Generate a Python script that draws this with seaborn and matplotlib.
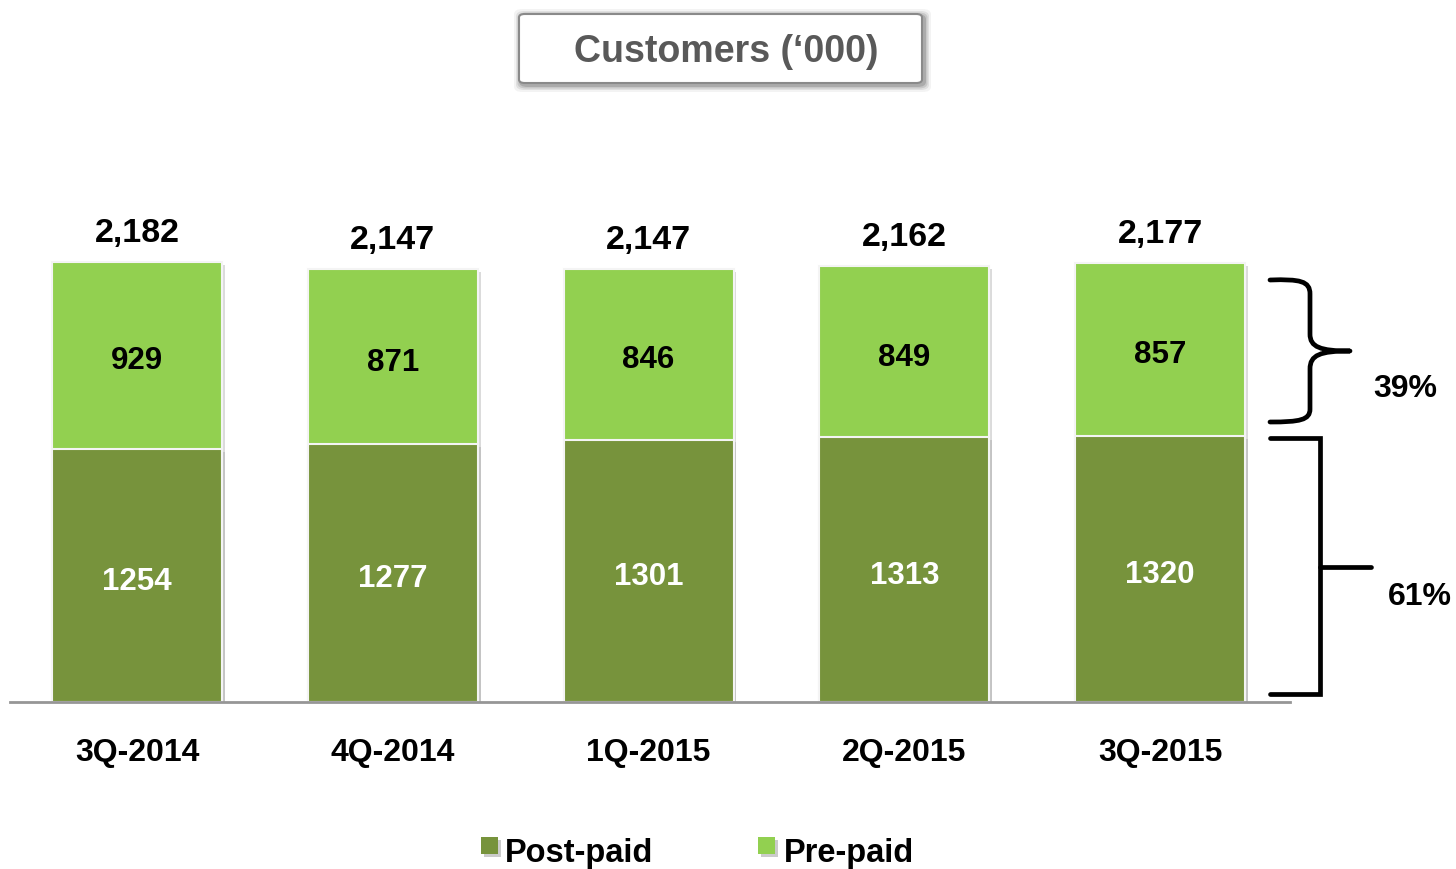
import matplotlib
matplotlib.use("Agg")
import matplotlib.pyplot as plt
import matplotlib.patheffects as pe
import matplotlib.transforms as mtransforms
from matplotlib.patches import FancyBboxPatch, Rectangle, PathPatch
from matplotlib.path import Path
import seaborn as sns
import pandas as pd

categories = ["3Q-2014", "4Q-2014", "1Q-2015", "2Q-2015", "3Q-2015"]
post_paid = [1254, 1277, 1301, 1313, 1320]
pre_paid = [929, 871, 846, 849, 857]
totals = [2182, 2147, 2147, 2162, 2177]
total_labels = ["2,182", "2,147", "2,147", "2,162", "2,177"]
share_labels = ["39%", "61%"]
title = "Customers (\u2018000)"
legend_labels = ["Post-paid", "Pre-paid"]

POST_COLOR = "#77933C"
PRE_COLOR = "#92D050"

sns.set_theme(style="white")
plt.rcParams["font.family"] = ["Liberation Sans", "DejaVu Sans"]
plt.rcParams["text.color"] = "black"

df = pd.DataFrame({"quarter": categories, "post": post_paid, "pre": pre_paid})
df["stack"] = df["post"] + df["pre"]

W, H = 1456, 870
fig = plt.figure(figsize=(W / 100, H / 100), dpi=100)
ax = fig.add_axes([10 / W, (H - 703) / H, 1280 / W, 605 / H])

shadow = [pe.SimplePatchShadow(offset=(2, -2), shadow_rgbFace="#9a9a9a", alpha=0.35), pe.Normal()]
sns.barplot(data=df, x="quarter", y="stack", color=PRE_COLOR, saturation=1, width=0.665,
            edgecolor="#f4f4f4", linewidth=1.5, ax=ax)
sns.barplot(data=df, x="quarter", y="post", color=POST_COLOR, saturation=1, width=0.665,
            edgecolor="#f4f4f4", linewidth=1.5, ax=ax)
for p in ax.patches:
    p.set_path_effects(shadow)

ax.set_xlim(-0.497, 4.508)
ax.set_ylim(0, 3000)
ax.set_xlabel("")
ax.set_ylabel("")
ax.set_yticks([])
for s in ["top", "right", "left"]:
    ax.spines[s].set_visible(False)
ax.spines["bottom"].set_color("#969696")
ax.spines["bottom"].set_linewidth(2)
ax.tick_params(axis="x", length=0, pad=25)
for lab in ax.get_xticklabels():
    lab.set_fontsize(23)
    lab.set_fontweight("bold")
    lab.set_color("black")

down = mtransforms.offset_copy(ax.transData, fig=fig, x=0, y=-5, units="dots")
down_tot = mtransforms.offset_copy(ax.transData, fig=fig, x=0, y=-3, units="dots")
for i in range(len(categories)):
    ax.text(i, post_paid[i] / 2, str(post_paid[i]), ha="center", va="center",
            fontsize=22.5, fontweight="bold", color="white", transform=down)
    ax.text(i, post_paid[i] + pre_paid[i] / 2, str(pre_paid[i]), ha="center", va="center",
            fontsize=22.5, fontweight="bold", color="black", transform=down)
    ax.text(i, totals[i] + 85, total_labels[i], ha="center", va="bottom",
            fontsize=24.5, fontweight="bold", color="black", transform=down_tot)


def fx(x):
    return x / W


def fy(y):
    return (H - y) / H


lw = 3.4
# curly brace for pre-paid
verts = [
    (fx(1270), fy(281)), (fx(1300), fy(280)), (fx(1310), fy(282)), (fx(1310), fy(295)),
    (fx(1310), fy(335)),
    (fx(1310), fy(348)), (fx(1320), fy(352)), (fx(1350), fy(352)),
    (fx(1320), fy(352)), (fx(1310), fy(356)), (fx(1310), fy(370)),
    (fx(1310), fy(410)),
    (fx(1310), fy(421)), (fx(1300), fy(423)), (fx(1270), fy(423)),
]
codes = [Path.MOVETO, Path.CURVE4, Path.CURVE4, Path.CURVE4,
         Path.LINETO,
         Path.CURVE4, Path.CURVE4, Path.CURVE4,
         Path.CURVE4, Path.CURVE4, Path.CURVE4,
         Path.LINETO,
         Path.CURVE4, Path.CURVE4, Path.CURVE4]
fig.patches.append(PathPatch(Path(verts, codes), fill=False, lw=lw, color="black",
                             transform=fig.transFigure, capstyle="round", joinstyle="round"))
# square bracket for post-paid
fig.lines.append(plt.Line2D([fx(1270), fx(1320), fx(1320), fx(1270)],
                            [fy(439), fy(439), fy(695), fy(695)], lw=lw, color="black",
                            transform=fig.transFigure, solid_joinstyle="miter"))
fig.lines.append(plt.Line2D([fx(1320), fx(1371)], [fy(568), fy(568)], lw=lw, color="black",
                            transform=fig.transFigure))
fig.text(fx(1405), fy(389), share_labels[0], ha="center", va="center", fontsize=23, fontweight="bold", color="black")
fig.text(fx(1420), fy(597), share_labels[1], ha="center", va="center", fontsize=23, fontweight="bold", color="black")

# title box with soft shadow
for k, a in [(7, 0.06), (5, 0.10), (3.5, 0.14), (2, 0.2)]:
    fig.patches.append(FancyBboxPatch((fx(519 - k + 2), fy(84 + k + 2)), fx(922 - 519 + 2 * k), (69 + 2 * k) / H,
                                      boxstyle="round,pad=0,rounding_size=0.006", transform=fig.transFigure,
                                      facecolor="#3a3a3a", edgecolor="none", alpha=a))
box = FancyBboxPatch((fx(519), fy(84)), fx(922) - fx(519), fy(15) - fy(84),
                     boxstyle="round,pad=0,rounding_size=0.004", transform=fig.transFigure,
                     facecolor="white", edgecolor="#8a8a8a", lw=1.5)
fig.patches.append(box)
fig.text(fx(726), fy(52), title, ha="center", va="center", fontsize=27, fontweight="bold", color="#595959")

# legend
leg_items = [(481, POST_COLOR, 505), (758, PRE_COLOR, 784)]
for (sx, col, tx), lab in zip(leg_items, legend_labels):
    fig.patches.append(Rectangle((fx(sx), fy(855)), fx(17), 17 / H, transform=fig.transFigure,
                                 facecolor=col, edgecolor="none",
                                 path_effects=[pe.SimplePatchShadow(offset=(2, -2), shadow_rgbFace="#999999", alpha=0.5), pe.Normal()]))
    fig.text(fx(tx), fy(854), lab, ha="left", va="center", fontsize=23.5, fontweight="bold", color="black")

fig.savefig("out.png", dpi=100)
